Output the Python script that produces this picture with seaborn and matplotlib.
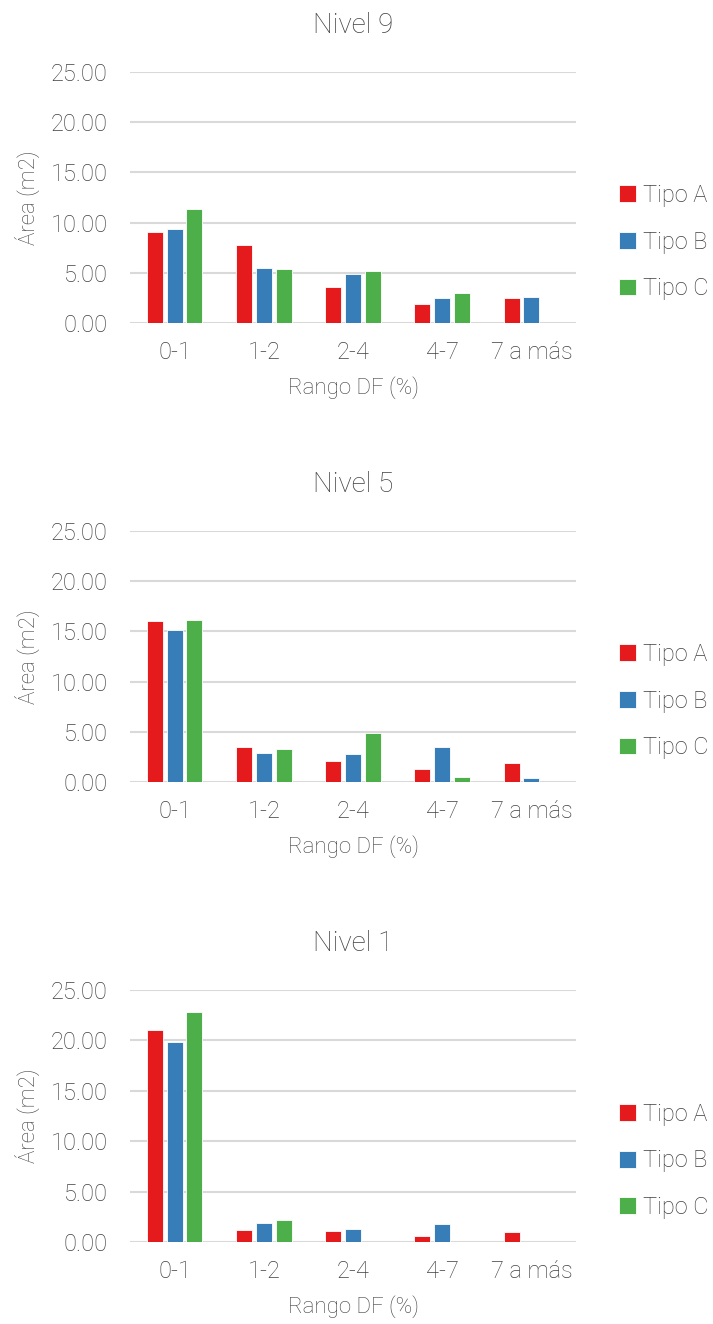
import matplotlib
matplotlib.use("Agg")
import matplotlib.pyplot as plt
import seaborn as sns
import pandas as pd
import numpy as np

rangos = ["0-1", "1-2", "2-4", "4-7", "7 a más"]
tipos = ["Tipo A", "Tipo B", "Tipo C"]
niveles = ["Nivel 9", "Nivel 5", "Nivel 1"]

# Área (m2) por rango de DF; None = sin área en ese rango
nivel9_a = [9.04, 7.81, 3.62, 1.93, 2.52]
nivel9_b = [9.40, 5.48, 4.92, 2.52, 2.59]
nivel9_c = [11.33, 5.42, 5.15, 3.02, None]

nivel5_a = [16.06, 3.45, 2.09, 1.26, 1.89]
nivel5_b = [15.13, 2.89, 2.82, 3.45, 0.37]
nivel5_c = [16.16, 3.25, 4.85, 0.53, None]

nivel1_a = [20.99, 1.19, 1.09, 0.63, 0.99]
nivel1_b = [19.89, 1.89, 1.29, 1.76, None]
nivel1_c = [22.78, 2.19, None, None, None]

series = {
    "Nivel 9": [nivel9_a, nivel9_b, nivel9_c],
    "Nivel 5": [nivel5_a, nivel5_b, nivel5_c],
    "Nivel 1": [nivel1_a, nivel1_b, nivel1_c],
}

y_ticks = [0, 5, 10, 15, 20, 25]
colores = ["#E41A1C", "#377EB8", "#4DAF4A"]
gris_texto = "#404040"
gris_linea = "#D9D9D9"

sns.set_theme(style="white")
plt.rcParams["font.family"] = ["Roboto", "DejaVu Sans"]
plt.rcParams["font.weight"] = "light"
plt.rcParams["axes.titleweight"] = "light"
plt.rcParams["axes.labelweight"] = "light"

W, H = 713, 1324
fig = plt.figure(figsize=(W / 100, H / 100), dpi=100)

# bottom (y of zero line) and top (y of 25 line) in pixels for each panel
paneles = [(323, 72), (782, 531), (1242, 990)]
x0, x1 = 130, 576

for nivel, (yb, yt) in zip(niveles, paneles):
    filas = []
    for tipo, vals in zip(tipos, series[nivel]):
        for r, v in zip(rangos, vals):
            if v is not None:
                filas.append({"rango": r, "tipo": tipo, "area": v})
    df = pd.DataFrame(filas)

    ax = fig.add_axes([x0 / W, 1 - yb / H, (x1 - x0) / W, (yb - yt) / H])
    sns.barplot(
        data=df, x="rango", y="area", hue="tipo",
        order=rangos, hue_order=tipos, palette=colores, saturation=1,
        width=0.667, gap=0.2, edgecolor="white", linewidth=0.6,
        errorbar=None, ax=ax, zorder=3,
    )
    ax.set_ylim(0, 25)
    ax.set_yticks(y_ticks)
    ax.set_yticklabels([f"{t:.2f}" for t in y_ticks])
    ax.set_xlim(-0.5, len(rangos) - 0.5)
    for s in ax.spines.values():
        s.set_visible(False)
    ax.grid(axis="y", color=gris_linea, linewidth=1.5, zorder=0)
    ax.set_axisbelow(True)
    ax.tick_params(axis="y", length=0, pad=16, labelsize=17, labelcolor=gris_texto)
    ax.tick_params(axis="x", length=0, pad=13, labelsize=17, labelcolor=gris_texto)
    ax.set_xlabel("Rango DF (%)", fontsize=16, color=gris_texto, labelpad=9,
                  fontweight="light")
    ax.set_ylabel("Área (m2)", fontsize=16, color=gris_texto, labelpad=8,
                  fontweight="light")
    ax.set_title(nivel, fontsize=20, color=gris_texto, pad=28, fontweight="light")

    sns.move_legend(
        ax, loc="center left", bbox_to_anchor=(1.07, 0.322),
        frameon=False, title=None, fontsize=17,
        handlelength=0.72, handleheight=0.72, handletextpad=0.3,
        labelspacing=1.0, borderpad=0, labelcolor=gris_texto,
    )

fig.savefig("out.png", dpi=100)
